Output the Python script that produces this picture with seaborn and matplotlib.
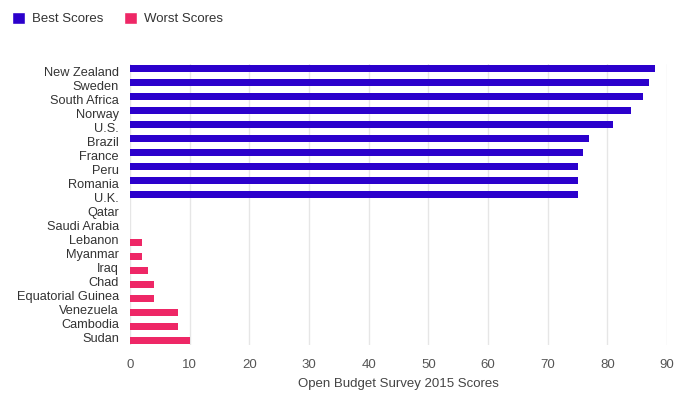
import matplotlib
matplotlib.use("Agg")
import matplotlib.pyplot as plt
import seaborn as sns
import pandas as pd
from matplotlib.patches import Patch

countries = ["New Zealand", "Sweden", "South Africa", "Norway", "U.S.", "Brazil",
             "France", "Peru", "Romania", "U.K.", "Qatar", "Saudi Arabia",
             "Lebanon", "Myanmar", "Iraq", "Chad", "Equatorial Guinea",
             "Venezuela", "Cambodia", "Sudan"]
best_scores = [88, 87, 86, 84, 81, 77, 76, 75, 75, 75, None, None,
               None, None, None, None, None, None, None, None]
worst_scores = [None, None, None, None, None, None, None, None, None, None, 0, 0,
                2, 2, 3, 4, 4, 8, 8, 10]
series = ["Best Scores", "Worst Scores"]
colors = ["#2B00CC", "#EE2766"]
xticks = [0, 10, 20, 30, 40, 50, 60, 70, 80, 90]

sns.set_theme(style="white")
plt.rcParams["font.family"] = ["Liberation Sans", "DejaVu Sans"]

fig = plt.figure(figsize=(6.78, 3.96), dpi=100)
ax = fig.add_axes([130 / 678, 1 - 345 / 396, (667 - 130) / 678, (345 - 64) / 396])

shift = 0.18
for name, vals, col, off in [(series[0], best_scores, colors[0], -shift),
                             (series[1], worst_scores, colors[1], shift)]:
    d = pd.DataFrame({"country": countries, "score": vals}).dropna()
    n_before = len(ax.patches)
    sns.barplot(data=d, y="country", x="score", order=countries, color=col,
                orient="h", width=0.5, ax=ax, saturation=1, linewidth=0)
    for p in ax.patches[n_before:]:
        p.set_y(p.get_y() + off)
        if p.get_width() == 0:
            p.set_visible(False)

ax.set_xlim(0, 90)
ax.set_xticks(xticks)
ax.set_xticklabels([str(t) for t in xticks])
ax.set_ylim(len(countries) - 0.5, -0.5)
for s in ax.spines.values():
    s.set_visible(False)
ax.grid(axis="x", color="#e6e6e6", linewidth=1)
ax.set_axisbelow(True)
ax.tick_params(axis="y", length=0, labelsize=9.2, labelcolor="#333333", pad=8)
ax.tick_params(axis="x", length=0, labelsize=9.5, labelcolor="#555555", pad=10)
ax.set_ylabel("")
ax.set_xlabel("Open Budget Survey 2015 Scores", fontsize=9.5, color="#444444", labelpad=5)

handles = [Patch(facecolor=colors[0], label=series[0]),
           Patch(facecolor=colors[1], label=series[1])]
fig.legend(handles=handles, loc="upper left", bbox_to_anchor=(0.0, 1.0),
           ncol=2, frameon=False, fontsize=9.5, handlelength=1.0, handleheight=1.0,
           columnspacing=1.6, handletextpad=0.5, labelcolor="#333333")

fig.savefig("out.png", dpi=100)
